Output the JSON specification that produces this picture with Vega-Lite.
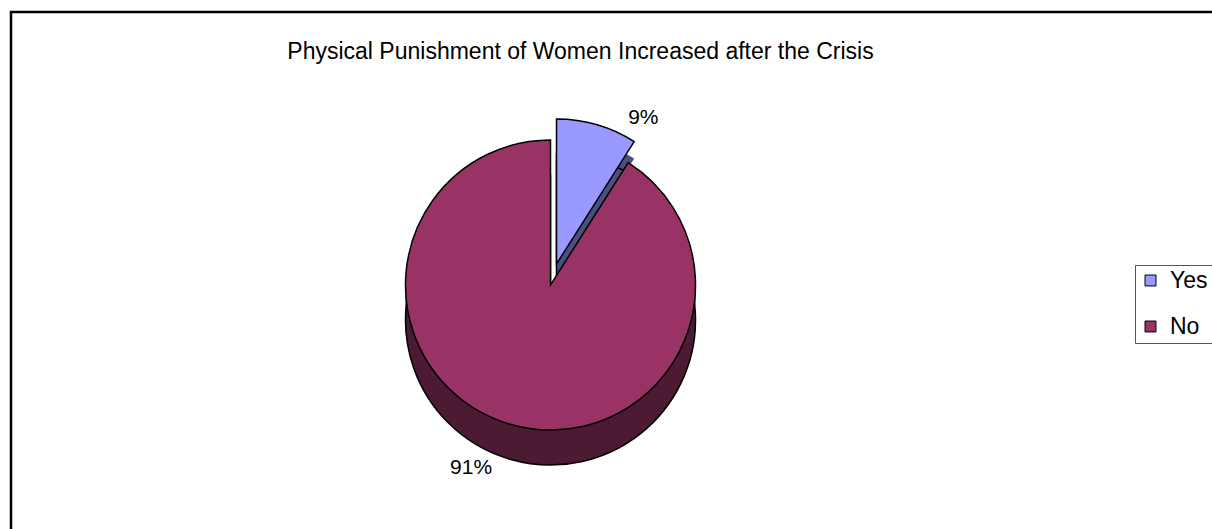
{
  "$schema": "https://vega.github.io/schema/vega-lite/v6.json",
  "width": 1215,
  "height": 530,
  "autosize": {"type": "none"},
  "padding": {"left": 11, "top": 12, "right": 0, "bottom": 0},
  "background": "white",
  "view": {"stroke": "black", "strokeWidth": 2.5, "fill": "white"},
  "config": {"view": {"stroke": "black", "strokeWidth": 2.5}, "style": {"cell": {"stroke": "black", "strokeWidth": 2.5}}, "font": "Liberation Sans"},
  "title": {
    "text": "Physical Punishment of Women Increased after the Crisis",
    "fontSize": 23,
    "fontWeight": "normal",
    "font": "Liberation Sans",
    "color": "black",
    "anchor": "middle",
    "dx": -38,
    "offset": -52
  },
  "data": {
    "values": [
      {"answer": "Yes", "value": 9, "label": "9%", "order": 1},
      {"answer": "No", "value": 91, "label": "91%", "order": 2}
    ]
  },
  "encoding": {
    "theta": {"field": "value", "type": "quantitative", "stack": true},
    "order": {"field": "order", "type": "quantitative"}
  },
  "layer": [
    {
      "mark": {"type": "arc", "outerRadius": 145, "fill": "#4D1A33", "strokeWidth": 0, "xOffset": -68, "yOffset": 25},
      "encoding": {"opacity": {"condition": {"test": "datum.answer === 'No'", "value": 1}, "value": 0}}
    },
    {
      "mark": {"type": "arc", "outerRadius": 145, "fill": "#4D1A33", "stroke": "black", "strokeWidth": 1.5, "xOffset": -68, "yOffset": 43},
      "encoding": {"opacity": {"condition": {"test": "datum.answer === 'No'", "value": 1}, "value": 0}}
    },
    {
      "mark": {"type": "arc", "outerRadius": 145, "fill": "#4D4D80", "strokeWidth": 0, "xOffset": -62, "yOffset": 4},
      "encoding": {"opacity": {"condition": {"test": "datum.answer === 'Yes'", "value": 1}, "value": 0}}
    },
    {
      "mark": {"type": "arc", "outerRadius": 145, "fill": "#4D4D80", "stroke": "black", "strokeWidth": 1.5, "xOffset": -62, "yOffset": 22},
      "encoding": {"opacity": {"condition": {"test": "datum.answer === 'Yes'", "value": 1}, "value": 0}}
    },
    {
      "mark": {"type": "arc", "outerRadius": 145, "stroke": "black", "strokeWidth": 1.5, "xOffset": -68, "yOffset": 8},
      "encoding": {
        "color": {
          "field": "answer",
          "type": "nominal",
          "scale": {"domain": ["Yes", "No"], "range": ["#9999FF", "#993366"]},
          "legend": {
            "orient": "none",
            "legendX": 1124,
            "legendY": 253,
            "title": null,
            "strokeColor": "#555555",
            "fillColor": "white",
            "padding": 4,
            "labelFontSize": 23,
            "labelFont": "Liberation Sans",
            "labelColor": "black",
            "symbolType": "square",
            "symbolSize": 120,
            "symbolStrokeColor": "black",
            "symbolStrokeWidth": 1,
            "symbolOpacity": 1,
            "rowPadding": 22,
            "labelOffset": 8
          }
        },
        "opacity": {"condition": {"test": "datum.answer === 'No'", "value": 1}, "value": 0}
      }
    },
    {
      "mark": {"type": "arc", "outerRadius": 145, "stroke": "black", "strokeWidth": 1.5, "xOffset": -62, "yOffset": -13},
      "encoding": {
        "color": {"field": "answer", "type": "nominal", "legend": null},
        "opacity": {"condition": {"test": "datum.answer === 'Yes'", "value": 1}, "value": 0}
      }
    },
    {
      "mark": {"type": "text", "radius": 175, "fontSize": 21, "font": "Liberation Sans", "color": "black", "xOffset": -62, "yOffset": -13, "dx": 38, "dy": 22},
      "encoding": {
        "text": {"field": "label", "type": "nominal"},
        "opacity": {"condition": {"test": "datum.answer === 'Yes'", "value": 1}, "value": 0}
      }
    },
    {
      "mark": {"type": "text", "radius": 195, "fontSize": 21, "font": "Liberation Sans", "color": "black", "xOffset": -68, "yOffset": 8, "dx": -25, "dy": -4},
      "encoding": {
        "text": {"field": "label", "type": "nominal"},
        "opacity": {"condition": {"test": "datum.answer === 'No'", "value": 1}, "value": 0}
      }
    }
  ]
}
